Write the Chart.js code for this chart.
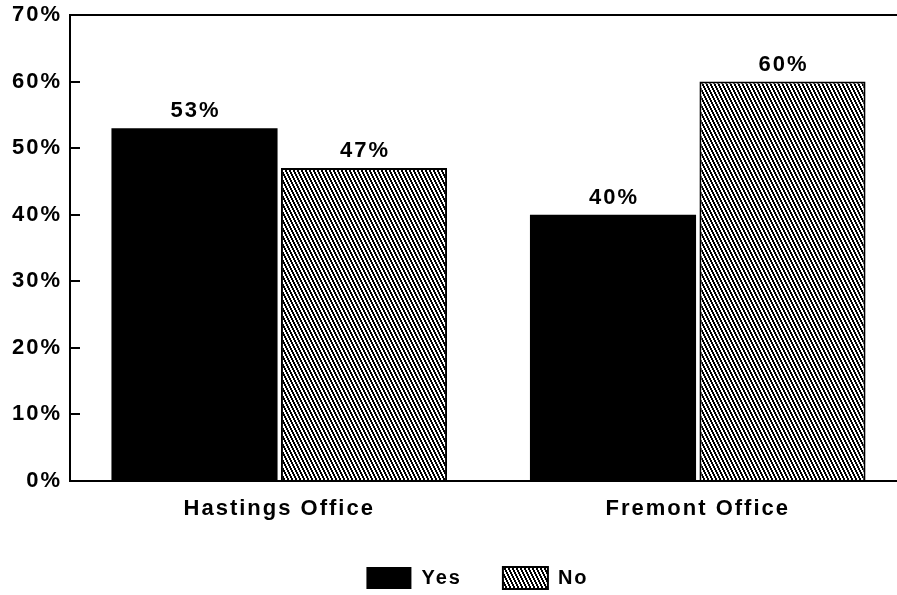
<!DOCTYPE html>
<html>
<head>
<meta charset="utf-8">
<script src="https://cdn.jsdelivr.net/npm/chart.js@4/dist/chart.umd.min.js"></script>
<style>
  html, body { margin: 0; padding: 0; background: #fff; overflow: hidden; }
  #c { display: block; }
</style>
</head>
<body>
<canvas id="c" width="955" height="595"></canvas>
<script>
// Survey answers by office, in percent
const categories = ['Hastings Office', 'Fremont Office'];
const seriesNames = ['Yes', 'No'];
const yesValues = [53, 40];
const noValues = [47, 60];
const yTickValues = [0, 10, 20, 30, 40, 50, 60, 70];

const canvas = document.getElementById('c');
const ctx = canvas.getContext('2d');

// Diagonal hatch fill ("\\\\") built pixel by pixel so it stays crisp
function makeHatch() {
  const tile = document.createElement('canvas');
  tile.width = 4; tile.height = 8;
  const g = tile.getContext('2d');
  g.fillStyle = '#fff';
  g.fillRect(0, 0, 4, 8);
  g.fillStyle = '#000';
  for (let y = 0; y < 8; y++) {
    const x = Math.floor(y / 2);
    g.fillRect(x % 4, y, 1, 1);
    g.fillRect((x + 1) % 4, y, 1, 1);
  }
  return ctx.createPattern(tile, 'repeat');
}
const hatch = makeHatch();

const FONT = "'Liberation Sans', Arial, Helvetica, sans-serif";
const SPACING = '2px';

// Wide letter spacing for every text drawn on the canvas
const spacingPlugin = {
  id: 'spacing',
  beforeUpdate(chart) { chart.ctx.letterSpacing = SPACING; },
  beforeDraw(chart) { chart.ctx.letterSpacing = SPACING; }
};

// Short inward tick marks on the value axis
const innerTicks = {
  id: 'innerTicks',
  afterDraw(chart) {
    const y = chart.scales.y;
    const left = chart.chartArea.left;
    const c = chart.ctx;
    c.save();
    c.strokeStyle = '#000';
    c.lineWidth = 2;
    yTickValues.forEach(v => {
      if (v === 0 || v === 70) return;
      const py = Math.round(y.getPixelForValue(v));
      c.beginPath();
      c.moveTo(left, py);
      c.lineTo(left + 10, py);
      c.stroke();
    });
    c.restore();
  }
};

// Percentage labels above each bar
const valueLabels = {
  id: 'valueLabels',
  afterDatasetsDraw(chart) {
    const c = chart.ctx;
    c.save();
    c.letterSpacing = SPACING;
    c.font = 'bold 22px ' + FONT;
    c.fillStyle = '#000';
    c.textAlign = 'center';
    c.textBaseline = 'alphabetic';
    chart.data.datasets.forEach((ds, i) => {
      chart.getDatasetMeta(i).data.forEach((bar, j) => {
        c.fillText(ds.data[j] + '%', bar.x + 1, bar.y - 11);
      });
    });
    c.restore();
  }
};

new Chart(ctx, {
  type: 'bar',
  data: {
    labels: categories,
    datasets: [
      {
        label: seriesNames[0],
        data: yesValues,
        backgroundColor: '#000',
        borderColor: '#000',
        borderWidth: 0
      },
      {
        label: seriesNames[1],
        data: noValues,
        backgroundColor: hatch,
        borderColor: '#000',
        borderWidth: 2
      }
    ]
  },
  options: {
    responsive: false,
    animation: false,
    devicePixelRatio: 1,
    layout: { padding: { left: 0, right: 0, top: 15, bottom: -4 } },
    datasets: {
      bar: { categoryPercentage: 0.81, barPercentage: 0.98 }
    },
    plugins: {
      tooltip: { enabled: false },
      legend: {
        position: 'bottom',
        align: 'center',
        labels: {
          color: '#000',
          boxWidth: 45,
          boxHeight: 22,
          padding: 41,
          font: { family: FONT, size: 20, weight: 'bold' }
        }
      }
    },
    scales: {
      x: {
        grid: { display: false, drawTicks: false },
        border: { display: true, color: '#000', width: 2 },
        ticks: {
          color: '#000',
          padding: 15,
          font: { family: FONT, size: 22, weight: 'bold' }
        },
        afterFit(scale) { scale.height = 45; }
      },
      y: {
        min: 0,
        max: 70,
        afterBuildTicks(scale) {
          scale.ticks = yTickValues.map(v => ({ value: v }));
        },
        grid: {
          drawTicks: true,
          tickLength: 8,
          tickColor: 'rgba(0,0,0,0)',
          lineWidth: 2,
          color: c => (c.tick && c.tick.value === 70 ? '#000' : 'rgba(0,0,0,0)')
        },
        border: { display: true, color: '#000', width: 2 },
        ticks: {
          color: '#000',
          padding: 0,
          font: { family: FONT, size: 22, weight: 'bold' },
          callback: v => v + '%'
        },
        afterFit(scale) { scale.width = 70; }
      },
      // empty spacer on the right so the plot runs past the page edge
      yRight: {
        position: 'right',
        display: true,
        grid: { display: false, drawTicks: false },
        border: { display: false },
        ticks: { display: false },
        afterFit(scale) { scale.width = 48; }
      }
    }
  },
  plugins: [spacingPlugin, innerTicks, valueLabels]
});
</script>
</body>
</html>
